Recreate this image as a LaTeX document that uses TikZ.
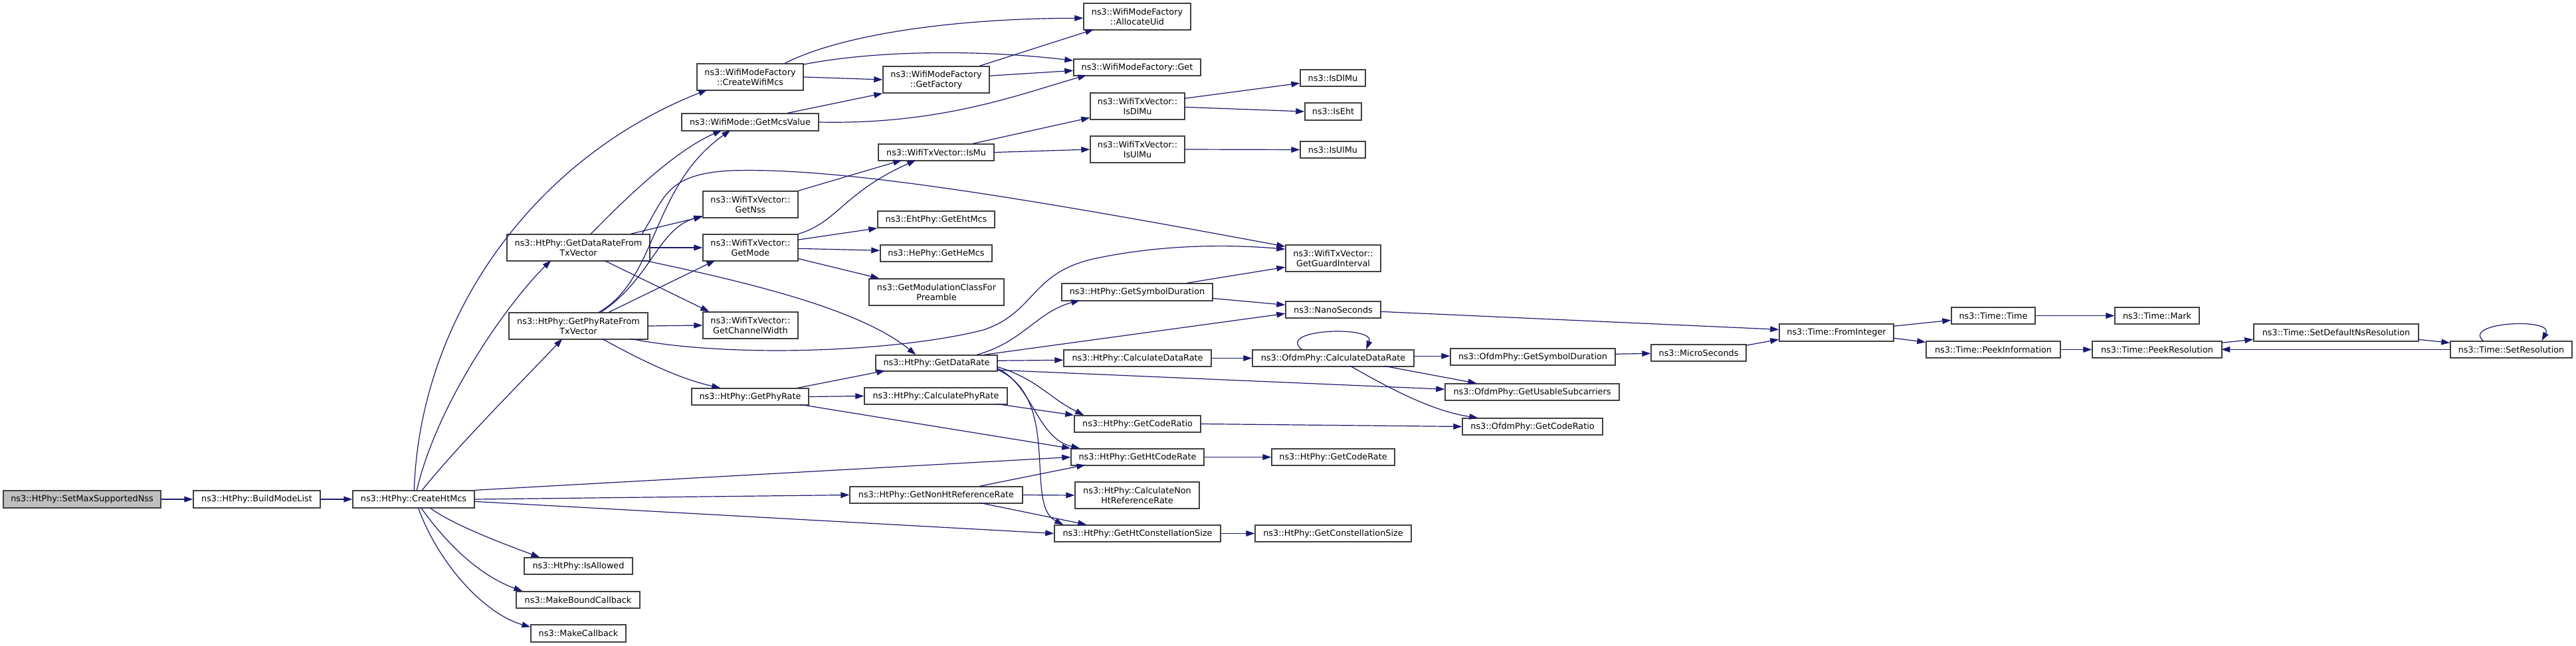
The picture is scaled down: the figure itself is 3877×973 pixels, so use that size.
\documentclass[tikz,border=0pt]{standalone}
\usepackage{fontspec}
\setmainfont{DejaVu Sans}
\usetikzlibrary{arrows.meta,calc}
\definecolor{edgeblue}{HTML}{191970}
\definecolor{nodeborder}{HTML}{404040}
\definecolor{rootfill}{HTML}{BFBFBF}
\newcommand\fnbox[7][]{\node[fn,#1,minimum width={(#5-#3)*0.5pt},minimum height={(#6-#4)*0.5pt}] (#2) at ({(#3+#5)/2},{(#4+#6)/2}) {#7};}
\begin{document}
\begin{tikzpicture}[x=0.5pt,y=-0.5pt,
  fn/.style={draw=nodeborder,fill=white,line width=0.7pt,inner sep=0pt,align=center,
    font=\fontsize{6.4}{7.5}\selectfont,text=black},
  rootbox/.style={fill=rootfill},
  e/.style={draw=edgeblue,line width=0.6pt,-{Triangle[length=6.5pt,width=4.4pt]}}]
\useasboundingbox (0,0) rectangle (3877,973);
% nodes
\fnbox[rootbox]{root}{5}{739}{242}{765}{ns3::HtPhy::SetMaxSupportedNss}
\fnbox{bml}{291}{739}{482}{765}{ns3::HtPhy::BuildModeList}
\fnbox{cht}{531}{739}{714}{765}{ns3::HtPhy::CreateHtMcs}
\fnbox{cwm}{1049}{96}{1209}{136}{ns3::WifiModeFactory\\::CreateWifiMcs}
\fnbox{gmv}{1026}{171}{1232}{197}{ns3::WifiMode::GetMcsValue}
\fnbox{gdrtx}{763}{353}{978}{393}{ns3::HtPhy::GetDataRateFrom\\TxVector}
\fnbox{gprtx}{766}{471}{975}{511}{ns3::HtPhy::GetPhyRateFrom\\TxVector}
\fnbox{gnss}{1058}{288}{1201}{328}{ns3::WifiTxVector::\\GetNss}
\fnbox{gmode}{1058}{353}{1201}{393}{ns3::WifiTxVector::\\GetMode}
\fnbox{gcw}{1058}{470}{1201}{510}{ns3::WifiTxVector::\\GetChannelWidth}
\fnbox{gpr}{1041}{585}{1217}{610}{ns3::HtPhy::GetPhyRate}
\fnbox{isal}{789}{840}{952}{865}{ns3::HtPhy::IsAllowed}
\fnbox{mbc}{777}{891}{963}{916}{ns3::MakeBoundCallback}
\fnbox{mcb}{799}{941}{942}{967}{ns3::MakeCallback}
\fnbox{gfac}{1329}{100}{1489}{140}{ns3::WifiModeFactory\\::GetFactory}
\fnbox{ismu}{1322}{217}{1496}{242}{ns3::WifiTxVector::IsMu}
\fnbox{geht}{1321}{318}{1497}{343}{ns3::EhtPhy::GetEhtMcs}
\fnbox{ghe}{1325}{369}{1493}{394}{ns3::HePhy::GetHeMcs}
\fnbox{gmcp}{1308}{420}{1511}{460}{ns3::GetModulationClassFor\\Preamble}
\fnbox{gdr}{1318}{535}{1501}{559}{ns3::HtPhy::GetDataRate}
\fnbox{cpr}{1301}{584}{1516}{609}{ns3::HtPhy::CalculatePhyRate}
\fnbox{gnhr}{1279}{733}{1539}{758}{ns3::HtPhy::GetNonHtReferenceRate}
\fnbox{auid}{1631}{5}{1792}{45}{ns3::WifiModeFactory\\::AllocateUid}
\fnbox{wget}{1616}{89}{1807}{114}{ns3::WifiModeFactory::Get}
\fnbox{txdl}{1641}{140}{1783}{180}{ns3::WifiTxVector::\\IsDlMu}
\fnbox{txul}{1641}{205}{1783}{245}{ns3::WifiTxVector::\\IsUlMu}
\fnbox{isdl}{1957}{105}{2055}{130}{ns3::IsDlMu}
\fnbox{iseht}{1964}{155}{2049}{181}{ns3::IsEht}
\fnbox{isul}{1957}{213}{2055}{238}{ns3::IsUlMu}
\fnbox{ggi}{1935}{369}{2078}{409}{ns3::WifiTxVector::\\GetGuardInterval}
\fnbox{hsd}{1598}{427}{1825}{453}{ns3::HtPhy::GetSymbolDuration}
\fnbox{nano}{1935}{454}{2078}{479}{ns3::NanoSeconds}
\fnbox{hcdr}{1601}{527}{1823}{552}{ns3::HtPhy::CalculateDataRate}
\fnbox{ocdr}{1885}{527}{2128}{552}{ns3::OfdmPhy::CalculateDataRate}
\fnbox{hgcr}{1617}{626}{1807}{651}{ns3::HtPhy::GetCodeRatio}
\fnbox{ghcr}{1612}{676}{1812}{701}{ns3::HtPhy::GetHtCodeRate}
\fnbox{gcr}{1914}{676}{2099}{701}{ns3::HtPhy::GetCodeRate}
\fnbox{cnhr}{1618}{726}{1805}{766}{ns3::HtPhy::CalculateNon\\HtReferenceRate}
\fnbox{ghcs}{1587}{791}{1837}{816}{ns3::HtPhy::GetHtConstellationSize}
\fnbox{gcs}{1889}{791}{2124}{816}{ns3::HtPhy::GetConstellationSize}
\fnbox{osd}{2183}{525}{2431}{550}{ns3::OfdmPhy::GetSymbolDuration}
\fnbox{ous}{2175}{578}{2437}{603}{ns3::OfdmPhy::GetUsableSubcarriers}
\fnbox{ogcr}{2201}{630}{2412}{655}{ns3::OfdmPhy::GetCodeRatio}
\fnbox{micro}{2485}{519}{2628}{544}{ns3::MicroSeconds}
\fnbox{fint}{2678}{488}{2850}{514}{ns3::Time::FromInteger}
\fnbox{ttime}{2937}{463}{3063}{488}{ns3::Time::Time}
\fnbox{mark}{3183}{463}{3310}{488}{ns3::Time::Mark}
\fnbox{pinfo}{2899}{514}{3101}{539}{ns3::Time::PeekInformation}
\fnbox{pres}{3149}{514}{3344}{539}{ns3::Time::PeekResolution}
\fnbox{sdns}{3392}{488}{3640}{514}{ns3::Time::SetDefaultNsResolution}
\fnbox{sres}{3688}{514}{3871}{539}{ns3::Time::SetResolution}
% edges
\draw[e] (root.east) -- (bml.west);
\draw[e] (bml.east) -- (cht.west);
\draw[e] ($(cht.north west)+(93,0)$) .. controls (632,480) and (800,240) .. ($(cwm.north west)+(16,40)$);
\draw[e] ($(cht.north west)+(97,0)$) .. controls (660,600) and (770,450) .. ($(gdrtx.north west)+(67,40)$);
\draw[e] ($(cht.north west)+(105,0)$) .. controls (690,670) and (790,570) .. ($(gprtx.north west)+(81,40)$);
\draw[e] (cht.north east) -- (ghcr.west);
\draw[e] (cht.east) -- (gnhr.west);
\draw[e] ($(cht.north west)+(183,17)$) -- (ghcs.west);
\draw[e] ($(cht.north west)+(116,26)$) .. controls (680,790) and (760,820) .. ($(isal.north west)+(24,0)$);
\draw[e] ($(cht.north west)+(103,26)$) .. controls (680,830) and (730,870) .. ($(mbc.north west)+(10,0)$);
\draw[e] ($(cht.north west)+(99,26)$) .. controls (660,850) and (730,925) .. ($(mcb.north west)+(0,4)$);
\draw[e] ($(gdrtx.north west)+(127,0)$) .. controls (950,290) and (1020,225) .. ($(gmv.north west)+(61,26)$);
\draw[e] ($(gdrtx.north west)+(187,0)$) -- ($(gnss.north west)+(0,39)$);
\draw[e] ($(gdrtx.north west)+(204,0)$) .. controls (1000,300) and (1000,262) .. (1100,257) .. controls (1250,252) and (1500,290) .. ($(ggi.north west)+(0,3)$);
\draw[e] (gdrtx.east) -- (gmode.west);
\draw[e] ($(gdrtx.north west)+(147,40)$) -- ($(gcw.north west)+(10,0)$);
\draw[e] ($(gdrtx.north west)+(207,40)$) .. controls (1150,430) and (1300,470) .. ($(gdr.north west)+(61,0)$);
\draw[e] ($(gprtx.north west)+(136,0)$) .. controls (990,420) and (980,280) .. ($(gmv.north west)+(74,26)$);
\draw[e] ($(gprtx.north west)+(139,0)$) .. controls (980,420) and (990,345) .. ($(gnss.north west)+(0,38)$);
\draw[e] ($(gprtx.north west)+(151,0)$) -- ($(gmode.north west)+(19,40)$);
\draw[e] (gprtx.east) -- (gcw.west);
\draw[e] ($(gprtx.north west)+(184,40)$) .. controls (1100,540) and (1350,530) .. (1480,497) .. controls (1560,470) and (1550,410) .. (1650,389) .. controls (1750,368) and (1850,368) .. ($(ggi.north west)+(0,7)$);
\draw[e] ($(gprtx.north west)+(141,40)$) .. controls (960,540) and (1020,570) .. ($(gpr.north west)+(44,0)$);
\draw[e] ($(cwm.north west)+(133,0)$) .. controls (1260,55) and (1420,28) .. ($(auid.north west)+(0,23)$);
\draw[e] ($(cwm.north west)+(160,2)$) .. controls (1320,75) and (1480,75) .. ($(wget.north west)+(0,3)$);
\draw[e] (cwm.east) -- (gfac.west);
\draw[e] ($(gmv.north west)+(160,0)$) -- (gfac.south west);
\draw[e] (gmv.east) .. controls (1420,188) and (1540,140) .. ($(wget.north west)+(20,25)$);
\draw[e] ($(gfac.north west)+(146,0)$) -- ($(auid.north west)+(16,40)$);
\draw[e] ($(gfac.north west)+(160,15)$) -- ($(wget.north west)+(0,18)$);
\draw[e] ($(ismu.north west)+(143,0)$) -- ($(txdl.north west)+(0,38)$);
\draw[e] (ismu.east) -- (txul.west);
\draw[e] ($(txdl.north west)+(142,9)$) -- ($(isdl.north west)+(0,21)$);
\draw[e] ($(txdl.north west)+(142,22)$) -- (iseht.west);
\draw[e] (txul.east) -- (isul.west);
\draw[e] (gnss.north east) -- ($(ismu.north west)+(36,25)$);
\draw[e] (gmode.north east) .. controls (1260,335) and (1270,290) .. ($(ismu.north west)+(57,25)$);
\draw[e] ($(gmode.north west)+(143,9)$) -- (geht.south west);
\draw[e] ($(gmode.north west)+(143,22)$) -- ($(ghe.north west)+(0,9)$);
\draw[e] ($(gmode.north west)+(143,37)$) -- ($(gmcp.north west)+(16,0)$);
\draw[e] ($(gdr.north west)+(153,0)$) .. controls (1540,515) and (1560,470) .. ($(hsd.north west)+(28,26)$);
\draw[e] ($(gdr.north west)+(164,0)$) -- ($(nano.north west)+(0,19)$);
\draw[e] ($(gdr.north west)+(183,9)$) -- ($(hcdr.north west)+(0,16)$);
\draw[e] ($(gdr.north west)+(183,23)$) -- ($(ous.north west)+(0,9)$);
\draw[e] ($(gdr.north west)+(183,18)$) .. controls (1560,570) and (1580,600) .. ($(hgcr.north west)+(15,0)$);
\draw[e] ($(gdr.north west)+(183,20)$) .. controls (1555,580) and (1560,660) .. ($(ghcr.north west)+(14,0)$);
\draw[e] ($(gdr.north west)+(183,22)$) .. controls (1600,600) and (1540,760) .. ($(ghcs.north west)+(14,0)$);
\draw[e] ($(gpr.north west)+(160,0)$) -- ($(gdr.north west)+(15,24)$);
\draw[e] (gpr.east) -- (cpr.west);
\draw[e] ($(gpr.north west)+(164,25)$) -- (ghcr.north west);
\draw[e] ($(cpr.north west)+(199,25)$) -- (hgcr.north west);
\draw[e] ($(gnhr.north west)+(196,0)$) -- ($(ghcr.north west)+(22,25)$);
\draw[e] (gnhr.east) -- (cnhr.west);
\draw[e] ($(gnhr.north west)+(196,25)$) -- ($(ghcs.north west)+(49,0)$);
\draw[e] (hcdr.east) -- (ocdr.west);
\draw[e] ($(ocdr.north west)+(75,0)$) .. controls (1920,495) and (2070,490) .. ($(ocdr.north west)+(172,0)$);
\draw[e] ($(ocdr.north west)+(243,10)$) -- ($(osd.north west)+(0,12)$);
\draw[e] ($(ocdr.north west)+(199,25)$) -- ($(ous.north west)+(48,0)$);
\draw[e] ($(ocdr.north west)+(148,25)$) .. controls (2100,590) and (2160,620) .. ($(ogcr.north west)+(24,0)$);
\draw[e] (hgcr.east) -- (ogcr.west);
\draw[e] (ghcr.east) -- (gcr.west);
\draw[e] (ghcs.east) -- (gcs.west);
\draw[e] ($(hsd.north west)+(189,0)$) -- ($(ggi.north west)+(0,34)$);
\draw[e] ($(hsd.north west)+(227,23)$) -- ($(nano.north west)+(0,6)$);
\draw[e] ($(nano.north west)+(143,16)$) -- ($(fint.north west)+(0,9)$);
\draw[e] ($(osd.north west)+(248,9)$) -- ($(micro.north west)+(0,14)$);
\draw[e] ($(micro.north west)+(143,2)$) -- ($(fint.north west)+(0,24)$);
\draw[e] ($(fint.north west)+(172,4)$) -- ($(ttime.north west)+(0,20)$);
\draw[e] ($(fint.north west)+(172,22)$) -- ($(pinfo.north west)+(0,2)$);
\draw[e] (ttime.east) -- (mark.west);
\draw[e] (pinfo.east) -- (pres.west);
\draw[e] ($(pres.north west)+(195,3)$) -- ($(sdns.north west)+(0,24)$);
\draw[e] ($(sdns.north west)+(248,24)$) -- ($(sres.north west)+(0,3)$);
\draw[e] ($(sres.north west)+(0,13)$) -- ($(pres.north west)+(195,13)$);
\draw[e] ($(sres.north west)+(50,0)$) .. controls (3705,485) and (3845,478) .. ($(sres.north west)+(138,0)$);
\end{tikzpicture}
\end{document}
